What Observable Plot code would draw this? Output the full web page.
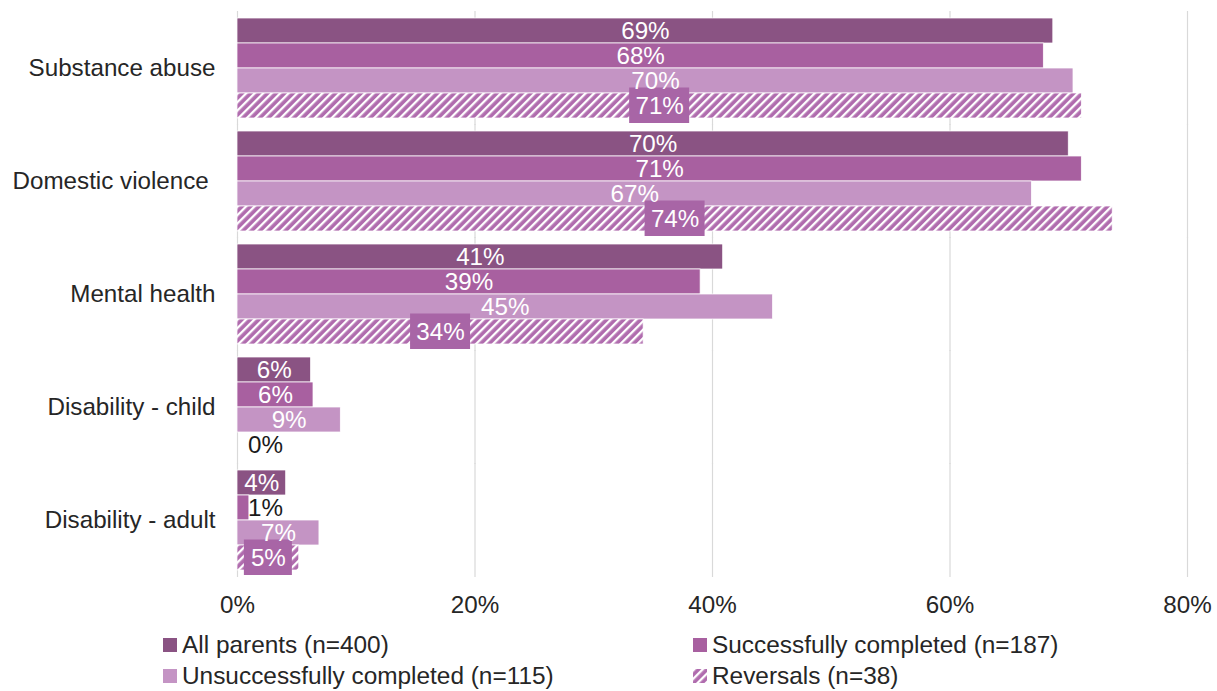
<!DOCTYPE html>
<html>
<head>
<meta charset="utf-8">
<script src="https://cdn.jsdelivr.net/npm/d3@7"></script>
<script src="https://cdn.jsdelivr.net/npm/@observablehq/plot@0.6"></script>
<style>
  html, body { margin: 0; padding: 0; background: #fff; }
  body { width: 1217px; height: 691px; position: relative; overflow: hidden;
         font-family: "Liberation Sans", Arial, sans-serif; color: #262626; }
  #legend .item { position: absolute; display: flex; align-items: center; font-size: 24.4px; line-height: 30px; white-space: nowrap; }
  #legend .sw { width: 14px; height: 14px; margin-right: 5px; display: inline-block; }
</style>
</head>
<body>
<div id="chart"></div>
<div id="legend"></div>
<script>
const categories = ["Substance abuse", "Domestic violence\u00a0", "Mental health", "Disability - child", "Disability - adult"];
const series = ["All parents (n=400)", "Successfully completed (n=187)", "Unsuccessfully completed (n=115)", "Reversals (n=38)"];
const allParents   = [68.7, 70.0, 40.9, 6.2, 4.1];
const successful   = [67.9, 71.1, 39.0, 6.4, 1.0];
const unsuccessful = [70.4, 66.9, 45.1, 8.7, 6.9];
const reversals    = [71.1, 73.7, 34.2, 0.0, 5.2];
const xTicks = [0, 20, 40, 60, 80];
const fills = ["#8a5383", "#a860a0", "#c494c4", "url(#hatch)"];
const labelBox = "#a865a6";

const seriesValues = [allParents, successful, unsuccessful, reversals];
const rows = [];
categories.forEach((c, i) => series.forEach((s, j) => rows.push({category: c, series: s, value: seriesValues[j][i]})));
const isRev = d => d.series === series[3];
const lab = d => Math.round(d.value) + "%";

const chart = Plot.plot({
  width: 1217, height: 625,
  marginLeft: 237, marginRight: 30, marginTop: 10, marginBottom: 48,
  style: {fontFamily: "'Liberation Sans', Arial, sans-serif", fontSize: "24.2px", color: "#262626", background: "white"},
  x: {domain: [0, 80], ticks: xTicks, tickFormat: d => d + "%", tickSize: 0, tickPadding: 24, label: null},
  y: {domain: series, padding: 0, axis: null},
  fy: {domain: categories, paddingInner: 0.1, paddingOuter: 0.05, label: null, tickSize: 0, tickPadding: 22},
  color: {domain: series, range: fills},
  marks: [
    Plot.ruleX(xTicks, {stroke: "#d9d9d9", strokeWidth: 1.2, insetTop: -6, insetBottom: -6}),
    Plot.barX(rows, {x: "value", y: "series", fy: "category", fill: "series", stroke: "white", strokeWidth: 0.75}),
    Plot.barX(rows.filter(d => isRev(d) && d.value >= 10), {x1: d => d.value / 2, x2: d => d.value / 2, y: "series", fy: "category",
      fill: labelBox, insetLeft: -30, insetRight: -30, insetTop: -5.5, insetBottom: -5}),
    Plot.barX(rows.filter(d => isRev(d) && d.value >= 1 && d.value < 10), {x1: d => d.value / 2, x2: d => d.value / 2, y: "series", fy: "category",
      fill: labelBox, insetLeft: -24, insetRight: -24, insetTop: -5.5, insetBottom: -5}),
    Plot.text(rows.filter(d => d.value >= 2), {x: d => d.value / 2, y: "series", fy: "category", text: lab, fill: "white", fontSize: 24.2}),
    Plot.text(rows.filter(d => d.value < 2), {x: d => 0, y: "series", fy: "category", text: lab, fill: "#1a1a1a", fontSize: 24.2, dx: 28})
  ]
});

const svg = d3.select(chart);
const defs = svg.insert("defs", ":first-child");
const pat = defs.append("pattern").attr("id", "hatch").attr("patternUnits", "userSpaceOnUse")
  .attr("width", 6).attr("height", 6).attr("patternTransform", "rotate(45)");
pat.append("rect").attr("width", 6).attr("height", 6).attr("fill", "#b06cae");
pat.append("rect").attr("width", 2.3).attr("height", 6).attr("fill", "white");
document.getElementById("chart").append(chart);

const legendPos = [
  {left: 163, top: 630}, {left: 693, top: 630},
  {left: 163, top: 661}, {left: 693, top: 661}
];
const legend = document.getElementById("legend");
series.forEach((s, i) => {
  const item = document.createElement("div");
  item.className = "item";
  item.style.left = legendPos[i].left + "px";
  item.style.top = legendPos[i].top + "px";
  let sw;
  if (i === 3) {
    sw = `<svg class="sw" width="14" height="14"><defs><pattern id="hatchL" patternUnits="userSpaceOnUse" width="6" height="6" patternTransform="rotate(45)"><rect width="6" height="6" fill="#b06cae"/><rect width="2.3" height="6" fill="white"/></pattern></defs><rect width="14" height="14" fill="url(#hatchL)"/></svg>`;
  } else {
    sw = `<span class="sw" style="background:${fills[i]}"></span>`;
  }
  item.innerHTML = sw + `<span>${s}</span>`;
  legend.append(item);
});
</script>
</body>
</html>
